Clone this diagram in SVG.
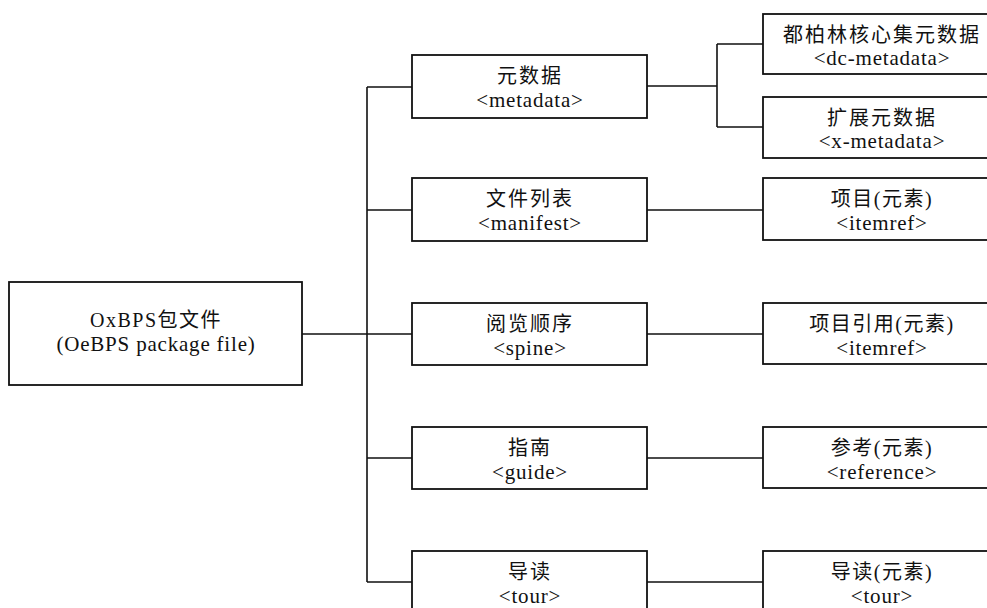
<svg xmlns="http://www.w3.org/2000/svg" width="987" height="608" viewBox="0 0 987 608">
<style>
rect{fill:#fff;stroke:#111;stroke-width:1.8}
.c path{fill:none;stroke:#111;stroke-width:1.6}
text{fill:#111;text-anchor:middle}
.zh{font-family:'Times New Roman','Liberation Serif','Noto Sans CJK SC',serif;font-size:20px;letter-spacing:2px}
.zm{font-family:'Times New Roman','Liberation Serif','Noto Sans CJK SC',serif;font-size:20px;letter-spacing:1.5px}
.en{font-family:'Times New Roman','Liberation Serif',serif;font-size:21px;letter-spacing:0.8px}
</style>
<rect x="0" y="0" width="987" height="608" style="stroke:none"/>
<g class="c" id="connectors">
<path d="M302 334H367M367 87V582M367 87H412M367 210H412M367 334H412M367 458H412M367 582H412"/>
<path d="M647 86H717M717 44V127M717 44H763M717 127H763"/>
<path d="M647 210H763M647 334H763M647 458H763M647 582H763"/>
</g>
<g id="root"><rect x="9" y="282" width="293" height="103"/><text class="zm" x="156" y="327">OxBPS包文件</text><text class="en" x="156" y="351">(OeBPS package file)</text></g>
<g id="metadata"><rect x="412" y="55" width="235" height="63"/><text class="zh" x="530" y="83">元数据</text><text class="en" x="530" y="107">&lt;metadata&gt;</text></g>
<g id="manifest"><rect x="412" y="178" width="235" height="63"/><text class="zh" x="530" y="206">文件列表</text><text class="en" x="530" y="230">&lt;manifest&gt;</text></g>
<g id="spine"><rect x="412" y="303" width="235" height="62"/><text class="zh" x="530" y="331">阅览顺序</text><text class="en" x="530" y="355">&lt;spine&gt;</text></g>
<g id="guide"><rect x="412" y="427" width="235" height="62"/><text class="zh" x="530" y="455">指南</text><text class="en" x="530" y="479">&lt;guide&gt;</text></g>
<g id="tour"><rect x="412" y="551" width="235" height="70"/><text class="zh" x="530" y="579">导读</text><text class="en" x="530" y="603">&lt;tour&gt;</text></g>
<g id="dc-metadata"><rect x="763" y="14" width="240" height="60"/><text class="zh" x="882" y="42">都柏林核心集元数据</text><text class="en" x="882" y="65">&lt;dc-metadata&gt;</text></g>
<g id="x-metadata"><rect x="763" y="97" width="240" height="61"/><text class="zh" x="882" y="125">扩展元数据</text><text class="en" x="882" y="148">&lt;x-metadata&gt;</text></g>
<g id="item"><rect x="763" y="178" width="240" height="62"/><text class="zm" x="882" y="206">项目(元素)</text><text class="en" x="882" y="230">&lt;itemref&gt;</text></g>
<g id="itemref"><rect x="763" y="303" width="240" height="61"/><text class="zm" x="882" y="331">项目引用(元素)</text><text class="en" x="882" y="355">&lt;itemref&gt;</text></g>
<g id="reference"><rect x="763" y="427" width="240" height="61"/><text class="zm" x="882" y="455">参考(元素)</text><text class="en" x="882" y="479">&lt;reference&gt;</text></g>
<g id="tour-item"><rect x="763" y="551" width="240" height="70"/><text class="zm" x="882" y="579">导读(元素)</text><text class="en" x="882" y="603">&lt;tour&gt;</text></g>
</svg>
